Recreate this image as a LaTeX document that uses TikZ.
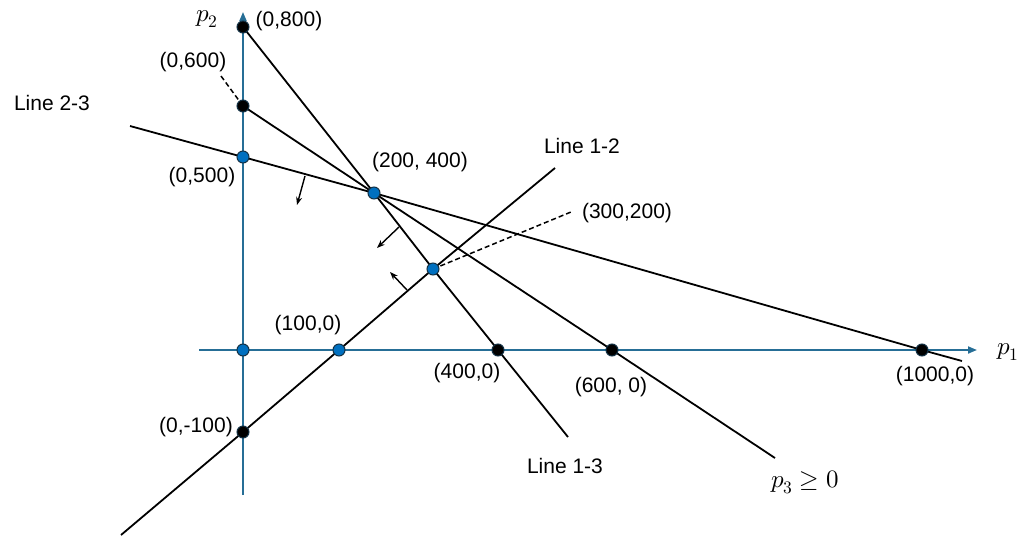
\documentclass[tikz,border=0pt]{standalone}
\usepackage{fontspec}
\usepackage{unicode-math}
\setmainfont{Liberation Sans}
\setmathfont{Latin Modern Math}
\usetikzlibrary{arrows.meta, positioning}
\definecolor{axisblue}{RGB}{38,110,150}
\definecolor{dotblue}{RGB}{0,112,192}
\definecolor{dotrim}{RGB}{20,50,70}

\begin{document}
\begin{tikzpicture}[
          x=1pt, y=-1pt,
          lbl/.style={font=\fontsize{21}{25}\selectfont, inner sep=0pt},
          mlbl/.style={font=\fontsize{25}{29}\selectfont, inner sep=0pt},
          ax/.style={draw=axisblue, line width=1.8pt, -{Triangle[length=9pt, width=7pt]}},
          bnd/.style={line width=1.8pt},
          guide/.style={line width=1.5pt, dash pattern=on 5pt off 3pt},
          nrm/.style={line width=1.4pt, -{Stealth[length=8pt, width=6pt]}},
          vtx/.style={circle, inner sep=0pt, minimum size=12pt, draw=dotrim, line width=1pt, fill=dotblue},
          blk/.style={vtx, fill=black},
        ]
        \useasboundingbox (0,0) rectangle (1021,536);

        % axes
        \coordinate (x0) at (199,350);
        \coordinate (x1) at (977,350);
        \coordinate (y0) at (243,495);
        \coordinate (y1) at (243,12);
        \draw[ax] (x0) -- (x1);
        \draw[ax] (y0) -- (y1);

        % vertices
        \coordinate (o)     at (243,350);
        \coordinate (v800)  at (243,27);
        \coordinate (v600)  at (243,106);
        \coordinate (v500)  at (243,157);
        \coordinate (v24)   at (374,193);
        \coordinate (v32)   at (433,269);
        \coordinate (v100)  at (339,350);
        \coordinate (v400)  at (498,350);
        \coordinate (v6)    at (612,350);
        \coordinate (v1000) at (922,350);
        \coordinate (vm100) at (243,432);

        % free ends of the lines
        \coordinate (e13) at (568,437);
        \coordinate (e23a) at (130,126);
        \coordinate (e23b) at (962,361);
        \coordinate (e3) at (775,458);
        \coordinate (e12a) at (121,535);
        \coordinate (e12b) at (555,168);

        % constraint lines
        \draw[bnd] (v800) -- (v24) -- (v32) -- (v400) -- (e13);
        \draw[bnd] (e23a) -- (v500) -- (v24) -- (v1000) -- (e23b);
        \draw[bnd] (v600) -- (v24) -- (v6) -- (e3);
        \draw[bnd] (e12a) -- (vm100) -- (v100) -- (v32) -- (e12b);

        % normals
        \coordinate (n1a) at (305,176);
        \coordinate (n1b) at (297,205);
        \coordinate (n2a) at (399,227);
        \coordinate (n2b) at (377,248);
        \coordinate (n3a) at (407,290);
        \coordinate (n3b) at (390,272);
        \draw[nrm] (n1a) -- (n1b);
        \draw[nrm] (n2a) -- (n2b);
        \draw[nrm] (n3a) -- (n3b);

        % leaders
        \coordinate (d600) at (221,76);
        \coordinate (d32) at (571,212);
        \draw[guide] (d600) -- (v600);
        \draw[guide] (v32) -- (d32);

        % dots
        \foreach \v in {o, v500, v24, v32, v100}
          \node[vtx] (dot-\v) at (\v) {};
        \foreach \v in {v800, v600, v400, v6, v1000, vm100}
          \node[blk] (dot-\v) at (\v) {};

        % labels
        \node[mlbl] (tp2)   at (207,19)  {$p_2$};
        \node[mlbl] (tp1)   at (1008,352) {$p_1$};
        \node[lbl] (t800)   at (289,21)  {(0,800)};
        \node[lbl] (t600)   at (193,62)  {(0,600)};
        \node[lbl] (t500)   at (202,177) {(0,500)};
        \node[lbl] (tl23)   at (52,103)  {Line 2-3};
        \node[lbl] (t24)    at (420,162) {(200, 400)};
        \node[lbl] (tl12)   at (582,146) {Line 1-2};
        \node[lbl] (t32)    at (627,213) {(300,200)};
        \node[lbl] (t100)   at (308,325) {(100,0)};
        \node[lbl] (t400)   at (467,373) {(400,0)};
        \node[lbl] (t6)     at (611,387) {(600, 0)};
        \node[lbl] (tm100)  at (196,427) {(0,-100)};
        \node[lbl] (tl13)   at (565,466) {Line 1-3};
        \node[lbl] (t1000)  at (935,376) {(1000,0)};
        \node[mlbl] (tp3)   at (805,482) {$p_3 \geq 0$};
      \end{tikzpicture}
\end{document}
